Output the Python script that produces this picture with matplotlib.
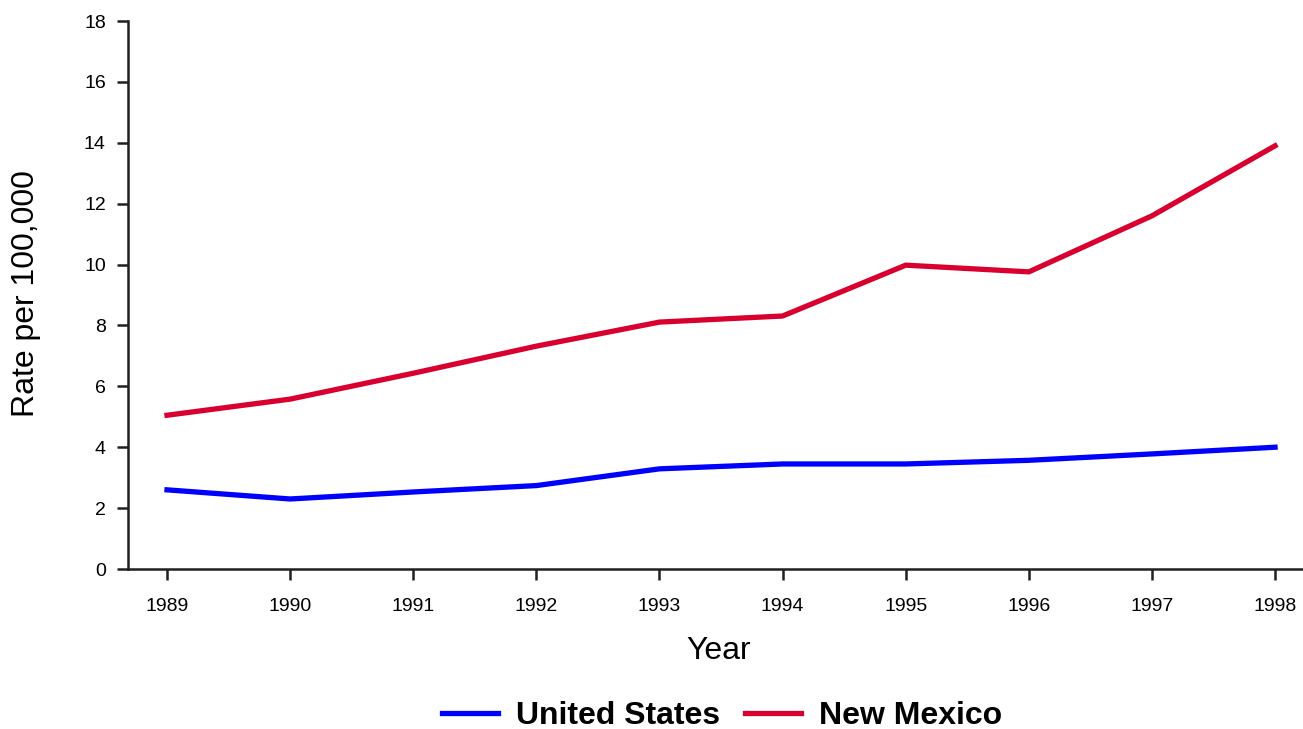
import matplotlib
matplotlib.use("Agg")
import matplotlib.pyplot as plt

years = [1989, 1990, 1991, 1992, 1993, 1994, 1995, 1996, 1997, 1998]
us = [2.6, 2.3, 2.53, 2.74, 3.29, 3.45, 3.45, 3.57, 3.78, 4.0]
nm = [5.05, 5.58, 6.43, 7.32, 8.11, 8.31, 9.98, 9.76, 11.6, 13.9]
yticks = [0, 2, 4, 6, 8, 10, 12, 14, 16, 18]

plt.rcParams['font.family'] = ['Liberation Sans', 'DejaVu Sans']

fig = plt.figure(figsize=(13.03, 7.29), dpi=100)
ax = fig.add_axes([128/1303, 1-569/729, 1-128/1303, (569-21)/729])

l1, = ax.plot(years, us, color='#0000FF', lw=3.8, solid_joinstyle='miter', label='United States')
l2, = ax.plot(years, nm, color='#D9002F', lw=3.8, solid_joinstyle='miter', label='New Mexico')

ax.set_xlim(1988.683, 1998.227)
ax.set_ylim(0, 18)
ax.set_yticks(yticks)
ax.set_xticks(years)
ax.set_xticklabels([str(y) for y in years])
for s in ['top', 'right']:
    ax.spines[s].set_visible(False)
for s in ['left', 'bottom']:
    ax.spines[s].set_linewidth(1.8)
    ax.spines[s].set_color('#231F20')
ax.tick_params(axis='both', length=8, width=1.8, color='#231F20', labelsize=14)
ax.tick_params(axis='x', pad=13)
ax.tick_params(axis='y', pad=8)
ax.set_xlabel('Year', fontsize=23)
ax.set_ylabel('Rate per 100,000', fontsize=23)
ax.xaxis.set_label_coords(719/1303, 1-651/729, transform=fig.transFigure)
ax.yaxis.set_label_coords(26/1303, 1-294/729, transform=fig.transFigure)
ax.xaxis.label.set_va('center')
ax.yaxis.label.set_va('center')

fig.legend(handles=[l1, l2], loc='center', bbox_to_anchor=(722/1303, 1-716/729), ncol=2,
           frameon=False, prop={'weight': 'bold', 'size': 23}, handlelength=1.75,
           columnspacing=0.8, handletextpad=0.56)

fig.savefig('out.png', dpi=100)
